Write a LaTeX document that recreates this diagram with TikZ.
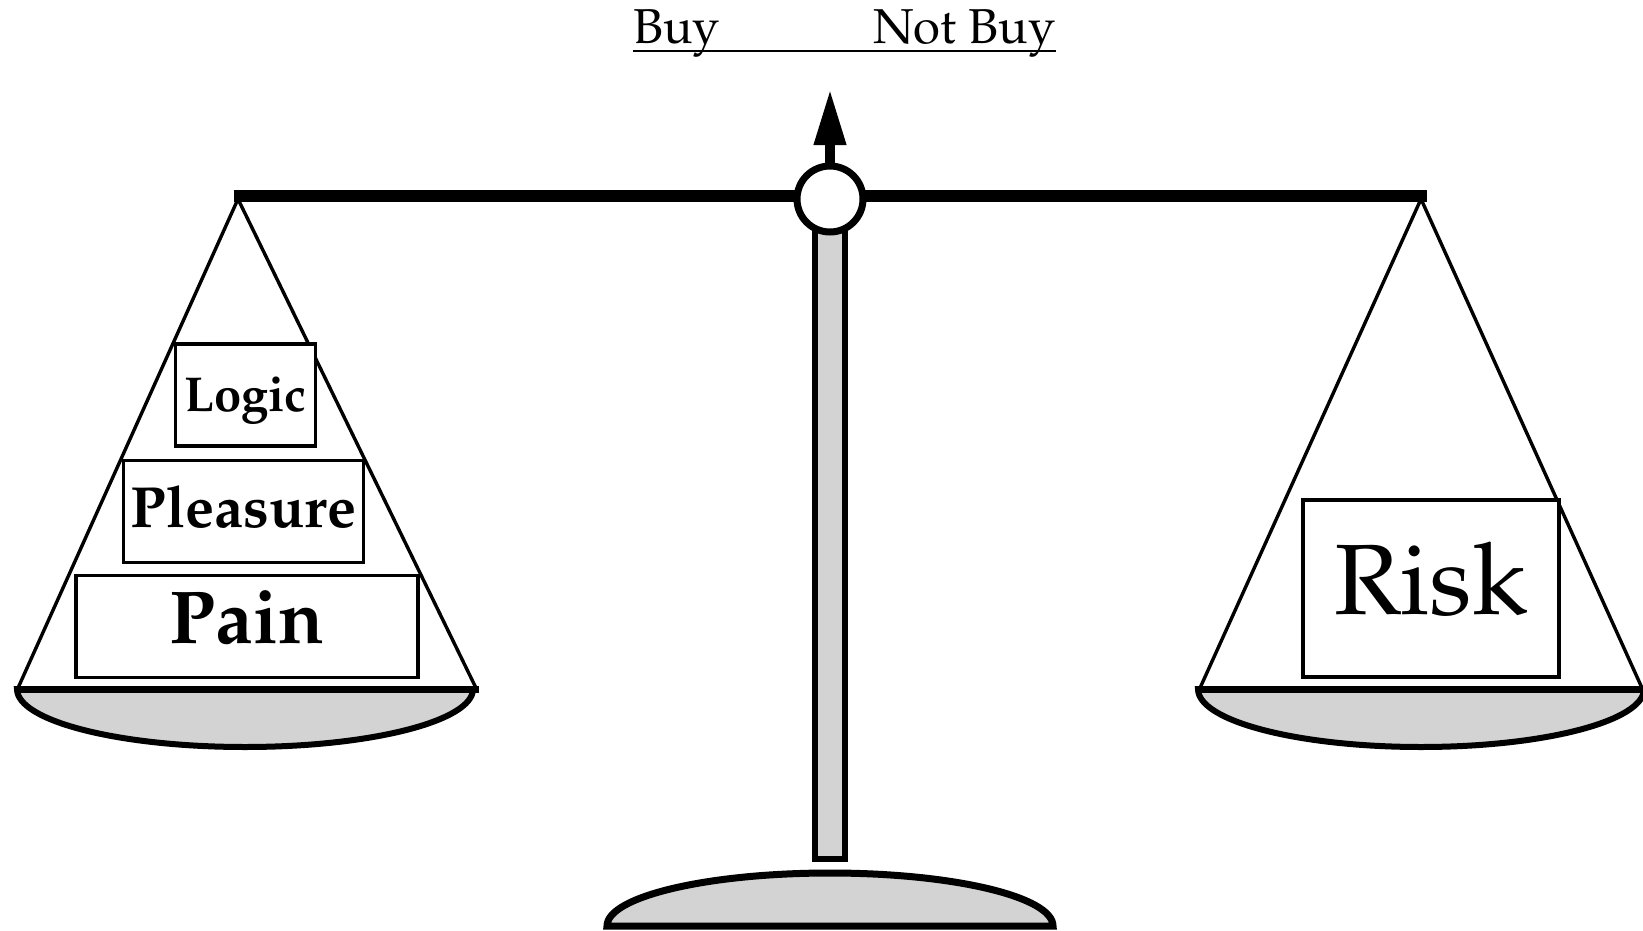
\documentclass[tikz,border=0pt]{standalone}
\usepackage[T1]{fontenc}
\renewcommand{\rmdefault}{ppl}
\usetikzlibrary{arrows.meta}
\definecolor{pangray}{HTML}{D3D3D3}

\begin{document}
\begin{tikzpicture}[x=0.5pt, y=-0.5pt,
  string/.style={line width=1.7pt},
  dish/.style={fill=pangray, line width=3pt},
  rim/.style={line width=3.5pt},
  wbox/.style={draw, line width=1.6pt, inner sep=0pt, fill=white, font=\bfseries},
  toplbl/.style={inner sep=0pt, font=\fontsize{24.5}{28}\selectfont},
]
\useasboundingbox (0,0) rectangle (1643,931);
% ---------- stand ----------
\filldraw[fill=pangray, line width=3pt] (815,228) rectangle (845,859);
\filldraw[fill=pangray, line width=3.5pt] (607,926) arc[start angle=180, end angle=360, x radius=223, y radius=53] -- cycle;
\draw[line width=6pt] (234,196) -- (1427,196);
\node[circle, draw, line width=3.5pt, fill=white, minimum size=33pt, inner sep=0pt] (pivot) at (830,199) {};
\coordinate (tip) at (830,89);
\draw[line width=5pt, -{Triangle[width=15pt,length=28pt]}] (pivot.north) -- (tip);
% ---------- top labels ----------
\node[toplbl, anchor=base west] (buy) at (633,44) {Buy};
\node[toplbl, anchor=base east] (notbuy) at (1056,44) {Not Buy};
\draw[line width=1pt] ([yshift=-3.5pt]buy.base west) -- ([yshift=-3.5pt]notbuy.base east);
% ---------- left pan ----------
\coordinate (lapex) at (238,199);
\coordinate (ll) at (18,688);
\coordinate (lr) at (476,688);
\draw[string] (ll) -- (lapex) -- (lr);
\filldraw[dish] (17,689) arc[start angle=180, end angle=0, x radius=228, y radius=58] -- cycle;
\draw[rim] (17,689) -- (479,689);
\node[wbox, minimum width=70pt, minimum height=51pt, text height=18pt, text depth=2pt,
  font=\fontsize{24.5}{28}\selectfont\bfseries] (logic) at (245.5,395) {Logic};
\node[wbox, minimum width=120pt, minimum height=51pt, text height=18pt, text depth=2.5pt,
  font=\fontsize{29}{33}\selectfont\bfseries] (pleasure) at (243.5,511.5) {Pleasure};
\node[wbox, minimum width=171pt, minimum height=51pt, text height=24pt, text depth=7.5pt,
  font=\fontsize{37.5}{42}\selectfont\bfseries] (pain) at (247,626.5) {Pain};
% ---------- right pan ----------
\coordinate (rapex) at (1421,199);
\coordinate (rl) at (1200,688);
\coordinate (rr) at (1642,688);
\draw[string] (rl) -- (rapex) -- (rr);
\filldraw[dish] (1198,689) arc[start angle=180, end angle=0, x radius=223, y radius=58] -- cycle;
\draw[rim] (1198,689) -- (1650,689);
\node[wbox, minimum width=128pt, minimum height=88.5pt, text height=36pt, text depth=10.5pt,
  font=\fontsize{50}{55}\selectfont\mdseries] (risk) at (1431,588.5) {Risk};
\end{tikzpicture}
\end{document}
